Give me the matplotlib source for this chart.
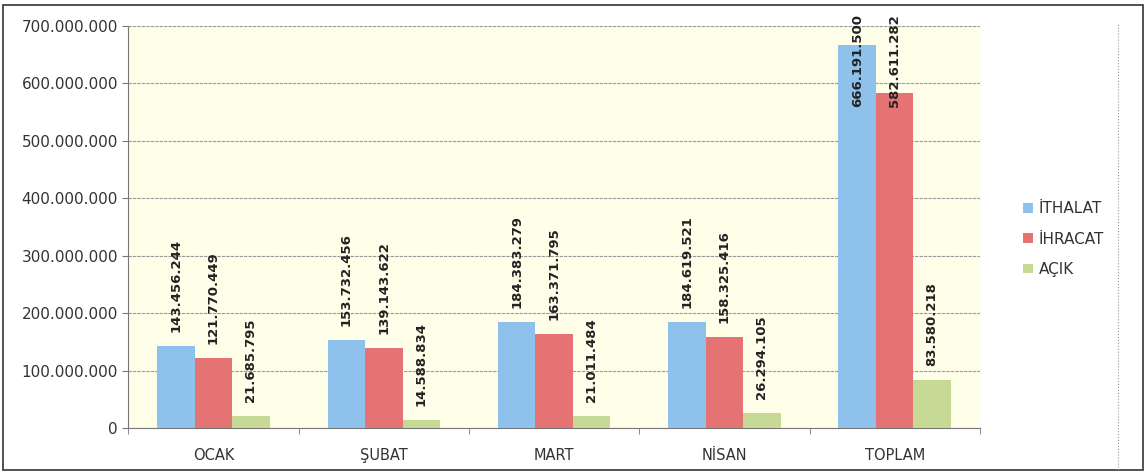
import numpy as np
import matplotlib.pyplot as plt
from matplotlib.ticker import FuncFormatter
from matplotlib.patches import Rectangle
from matplotlib.lines import Line2D

months = ['OCAK', 'ŞUBAT', 'MART', 'NİSAN', 'TOPLAM']
ithalat = [143456244, 153732456, 184383279, 184619521, 666191500]
ihracat = [121770449, 139143622, 163371795, 158325416, 582611282]
acik = [21685795, 14588834, 21011484, 26294105, 83580218]
series_names = ['İTHALAT', 'İHRACAT', 'AÇIK']
colors = ['#8EC1EC', '#E57373', '#C6DA95']

fig = plt.figure(figsize=(11.46, 4.72), dpi=100)
ax = fig.add_axes([0.112, 0.093, 0.743, 0.852])
ax.set_facecolor('#FEFEE9')

x = np.arange(len(months))
w = 0.22
for i, (vals, name, c) in enumerate(zip([ithalat, ihracat, acik], series_names, colors)):
    pos = x + (i - 1) * w
    ax.bar(pos, vals, w, color=c, label=name, zorder=3)
    for p, v in zip(pos, vals):
        s = f'{v:,}'.replace(',', '.')
        top = v + 24e6
        if top + 165e6 > 720e6:
            ax.text(p, 720e6, s, rotation=90, ha='center', va='top', fontsize=9.5,
                    fontweight='bold', color='#222222', zorder=4, clip_on=False)
        else:
            ax.text(p, top, s, rotation=90, ha='center', va='bottom', fontsize=9.5,
                    fontweight='bold', color='#222222', zorder=4)

ax.set_xlim(-0.5, 4.5)
ax.set_ylim(0, 700e6)
ax.set_yticks(np.arange(0, 700e6 + 1, 100e6))
ax.yaxis.set_major_formatter(FuncFormatter(lambda v, _: f'{int(v):,}'.replace(',', '.')))
ax.set_xticks(x)
ax.set_xticklabels(months, fontsize=10.5, color='#333333')
ax.set_xticks(np.arange(-0.5, 5, 1), minor=True)
ax.tick_params(axis='x', which='major', length=0, pad=14)
ax.tick_params(axis='x', which='minor', length=4, color='#777777')
ax.tick_params(axis='y', labelsize=11, labelcolor='#333333', length=4, color='#777777')

ax.grid(axis='y', linestyle=(0, (3, 1)), color='#999999', linewidth=0.8, zorder=0)
for side in ['top', 'right']:
    ax.spines[side].set_visible(False)
for side in ['left', 'bottom']:
    ax.spines[side].set_linestyle((0, (3, 1)))
    ax.spines[side].set_color('#777777')

leg = ax.legend(loc='center left', bbox_to_anchor=(1.035, 0.47), frameon=False,
                fontsize=11, handlelength=0.6, handleheight=0.6, handletextpad=0.4,
                labelspacing=1.0)
for t in leg.get_texts():
    t.set_color('#333333')

fig.patches.append(Rectangle((0.003, 0.004), 0.994, 0.985, transform=fig.transFigure,
                             fill=False, edgecolor='#333333', linewidth=1.2))
fig.lines.append(Line2D([0.976, 0.976], [0.004, 0.95], transform=fig.transFigure,
                        color='#999999', linewidth=0.8, linestyle=':'))

plt.savefig('out.png')
